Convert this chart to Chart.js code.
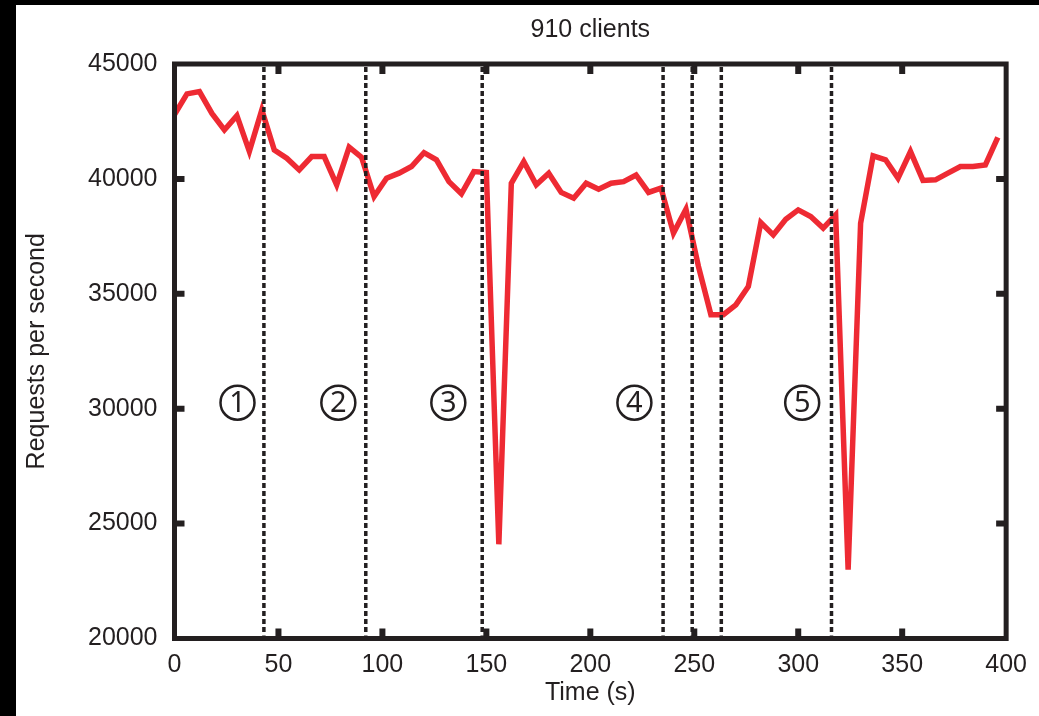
<!DOCTYPE html>
<html>
<head>
<meta charset="utf-8">
<script src="https://cdn.jsdelivr.net/npm/chart.js@4"></script>
<style>
  html, body { margin: 0; padding: 0; background: #fff; }
  #wrap { width: 1023px; height: 711px; border-top: 5px solid #000; border-left: 16px solid #000; background: #fff; }
  canvas { display: block; }
</style>
</head>
<body>
<div id="wrap"><canvas id="myChart" width="1023" height="711"></canvas></div>
<script>
// tiempo (s) y peticiones por segundo
const times = [0, 6, 12, 18, 24, 30, 36, 42, 48, 54, 60, 66, 72, 78, 84, 90, 96, 102, 108, 114,
  120, 126, 132, 138, 144, 150, 156, 162, 168, 174, 180, 186, 192, 198, 204, 210, 216, 222, 228, 234,
  240, 246, 252, 258, 264, 270, 276, 282, 288, 294, 300, 306, 312, 318, 324, 330, 336, 342, 348, 354,
  360, 366, 372, 378, 384, 390, 396];
const requests = [42800, 43700, 43800, 42850, 42130, 42750, 41200, 43000, 41260, 40900, 40390, 40970, 40970, 39740, 41380, 40940, 39230, 40030, 40250, 40540,
  41140, 40830, 39880, 39350, 40320, 40280, 24100, 39810, 40750, 39740, 40250, 39410, 39160, 39810, 39550, 39810, 39880, 40170, 39410, 39600,
  37640, 38680, 36190, 34090, 34090, 34520, 35320, 38100, 37560, 38240, 38650, 38360, 37860, 38430, 23000, 38070, 41000, 40830, 40030, 41190,
  39930, 39960, 40250, 40540, 40540, 40610, 41810];

// lineas verticales de fase
const phaseLines = [43, 92, 148, 235, 249, 263, 316];
// etiquetas de fase (circulos)
const phaseLabels = ['1', '2', '3', '4', '5'];
const phaseLabelX = [30.3, 78.8, 131.7, 221.2, 301.9];
const phaseLabelY = 30260;

const xTicks = [0, 50, 100, 150, 200, 250, 300, 350, 400];
const yTicks = [20000, 25000, 30000, 35000, 40000, 45000];

const ink = '#231f20';
const fontFam = '"Liberation Sans", Arial, sans-serif';

// marco, marcas hacia dentro, lineas punteadas y circulos
const framePlugin = {
  id: 'frame',
  afterDatasetsDraw(chart) {
    const { ctx, chartArea: a, scales } = chart;
    const xs = scales.x, ys = scales.y;
    ctx.save();

    // lineas punteadas
    ctx.strokeStyle = ink;
    ctx.lineWidth = 3.5;
    ctx.setLineDash([5, 3]);
    phaseLines.forEach(t => {
      const px = xs.getPixelForValue(t);
      ctx.beginPath();
      ctx.moveTo(px, a.top + 3);
      ctx.lineTo(px, a.bottom - 3);
      ctx.stroke();
    });
    ctx.setLineDash([]);

    // marcas
    ctx.lineWidth = 6;
    xTicks.slice(1, -1).forEach(v => {
      const px = xs.getPixelForValue(v);
      ctx.beginPath();
      ctx.moveTo(px, a.bottom); ctx.lineTo(px, a.bottom - 10);
      ctx.moveTo(px, a.top); ctx.lineTo(px, a.top + 10);
      ctx.stroke();
    });
    yTicks.slice(1, -1).forEach(v => {
      const py = ys.getPixelForValue(v);
      ctx.beginPath();
      ctx.moveTo(a.left, py); ctx.lineTo(a.left + 10, py);
      ctx.moveTo(a.right, py); ctx.lineTo(a.right - 10, py);
      ctx.stroke();
    });

    // marco
    ctx.lineWidth = 5;
    ctx.strokeRect(a.left, a.top, a.right - a.left, a.bottom - a.top);

    // circulos numerados
    ctx.lineWidth = 2.5;
    ctx.fillStyle = ink;
    ctx.font = '29px "Noto Sans", "Open Sans", sans-serif';
    ctx.textAlign = 'center';
    ctx.textBaseline = 'middle';
    phaseLabels.forEach((txt, i) => {
      const px = xs.getPixelForValue(phaseLabelX[i]);
      const py = ys.getPixelForValue(phaseLabelY);
      ctx.beginPath();
      ctx.arc(px, py, 17, 0, Math.PI * 2);
      ctx.stroke();
      ctx.fillText(txt, px, py + 1);
    });
    ctx.restore();
  }
};

const ctx = document.getElementById('myChart').getContext('2d');
new Chart(ctx, {
  type: 'line',
  data: {
    datasets: [{
      label: '910 clients',
      data: times.map((t, i) => ({ x: t, y: requests[i] })),
      borderColor: '#ee2a33',
      borderWidth: 5.5,
      pointRadius: 0,
      tension: 0,
      fill: false
    }]
  },
  options: {
    responsive: false,
    animation: false,
    layout: { padding: { left: 0, right: 32, top: 0, bottom: 0 } },
    plugins: {
      legend: { display: false },
      tooltip: { enabled: false },
      title: {
        display: true,
        fullSize: false,
        text: '910 clients',
        color: ink,
        font: { family: fontFam, size: 25, weight: 'normal' },
        padding: { top: 10, bottom: 19 }
      }
    },
    scales: {
      x: {
        type: 'linear',
        min: 0,
        max: 400,
        afterBuildTicks: s => { s.ticks = xTicks.map(v => ({ value: v })); },
        afterFit: s => { s.height = 77.5; },
        grid: { display: false, drawTicks: false },
        border: { display: false },
        ticks: {
          color: ink,
          padding: 12,
          maxRotation: 0,
          font: { family: fontFam, size: 25 },
          callback: v => String(v)
        },
        title: {
          display: true,
          text: 'Time (s)',
          color: ink,
          font: { family: fontFam, size: 25 },
          padding: { top: 0, bottom: 8 }
        }
      },
      y: {
        min: 20000,
        max: 45000,
        afterBuildTicks: s => { s.ticks = yTicks.map(v => ({ value: v })); },
        afterFit: s => { s.width = 158.5; },
        grid: { display: false, drawTicks: false },
        border: { display: false },
        ticks: {
          color: ink,
          padding: 17,
          font: { family: fontFam, size: 25 },
          callback: v => String(v)
        },
        title: {
          display: true,
          text: 'Requests per second',
          color: ink,
          font: { family: fontFam, size: 25 },
          padding: { top: 6, bottom: 0 }
        }
      }
    }
  },
  plugins: [framePlugin]
});
</script>
</body>
</html>
